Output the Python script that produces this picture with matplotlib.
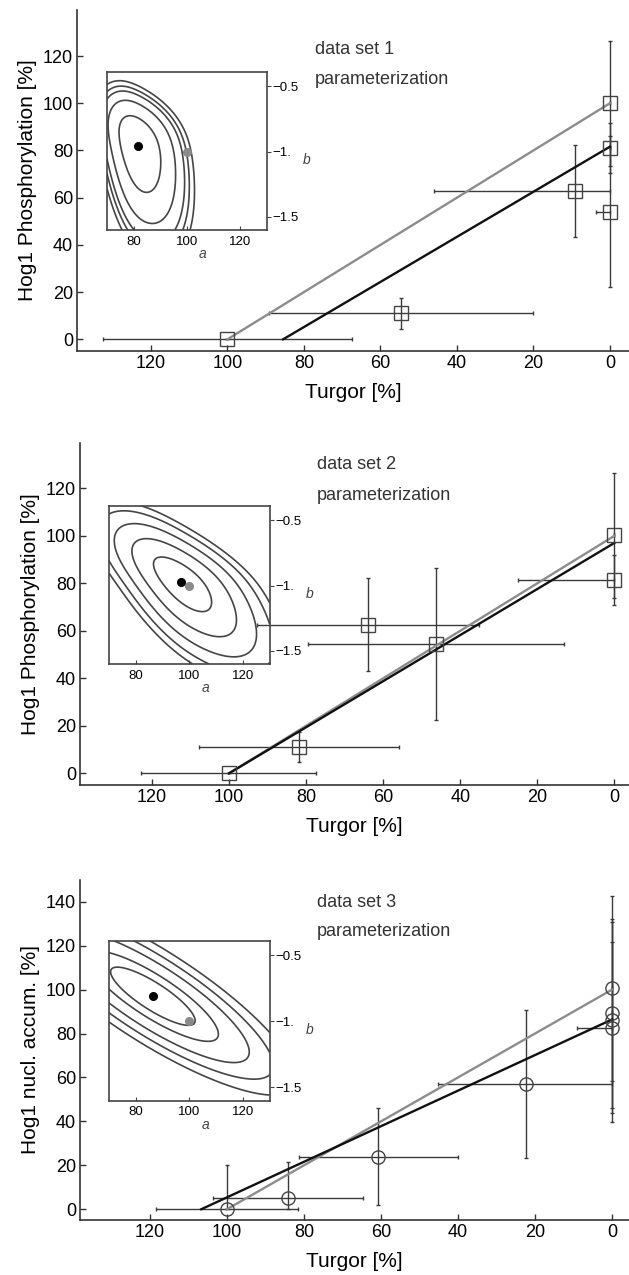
import numpy as np
import matplotlib.pyplot as plt

plt.rcParams['font.family'] = ['Liberation Sans Narrow', 'Liberation Sans', 'DejaVu Sans']

# data set 1 - Hog1 phosphorylation vs turgor
turgor1 = [100, 54.5, 9, 0, 0, 0]
hog1 = [0, 11, 62.8, 100, 81.2, 54]
turgor1_err_lo = [32.5, 34.5, 9, 0, 0, 0]
turgor1_err_hi = [32.5, 34.5, 37, 0, 0, 3.5]
hog1_err_lo = [0, 6.7, 19.5, 26.5, 10.6, 32]
hog1_err_hi = [0, 6.7, 19.5, 26.5, 10.6, 32]

# data set 2 - Hog1 phosphorylation vs turgor
turgor2 = [100, 81.8, 63.9, 46.3, 0, 0]
hog2 = [0, 11.2, 62.6, 54.5, 100.2, 81.3]
turgor2_err_lo = [22.7, 26, 28.7, 33.3, 0, 0]
turgor2_err_hi = [22.7, 26, 28.7, 33.3, 0, 25]
hog2_err_lo = [0, 6.4, 19.5, 32, 26.4, 10.5]
hog2_err_hi = [0, 6.4, 19.5, 32, 26.4, 10.5]

# data set 3 - Hog1 nuclear accumulation vs turgor
turgor3 = [100, 84.1, 60.7, 22.3, 0, 0, 0, 0]
hog3 = [0, 5, 24, 57, 100.6, 89.2, 86.2, 82.7]
turgor3_err_lo = [18.4, 19.5, 20.6, 22.3, 0, 0, 0, 0]
turgor3_err_hi = [18.4, 19.5, 20.6, 22.9, 0, 0, 0, 9]
hog3_err_lo = [0, 5, 22, 33.5, 42, 43, 46.5, 39]
hog3_err_hi = [20, 16.4, 22, 33.5, 42, 43, 44.5, 39]

# linear model hog = a + b * turgor
prior_a, prior_b = 100, -1
fit_a = [81.6, 97.0, 86.4]
fit_b = [-0.955, -0.97, -0.81]

# shape of the fit quality landscape in the insets (spread below / above the fit)
spread_a_lo = [6.8, 10.2, 15.8]
spread_a_hi = [8.8, 11.5, 15.8]
spread_b_lo = [0.37, 0.235, 0.22]
spread_b_hi = [0.2, 0.18, 0.22]
corr = [-0.4, -0.7, -0.84]
levels = [[1, 1.62, 2.0, 2.2, 2.42],
          [1, 1.8, 2.45, 3.0, 3.4],
          [1, 1.55, 2.28, 2.85, 3.4]]

ylabels = ['Hog1 Phosphorylation [%]', 'Hog1 Phosphorylation [%]', 'Hog1 nucl. accum. [%]']
markers = ['s', 's', 'o']

W, H = 629, 1275
main_rects = [(77.4, 10, 629, 350.7), (80.2, 442.7, 629, 785), (80.2, 880, 629, 1220)]
inset_rects = [(107, 71.7, 266.7, 230), (109, 505.7, 269.5, 664), (109, 940.7, 269.5, 1100.7)]
xlims = [(139.2, -5), (138.6, -3.8), (138.1, -4.4)]
ylims = [(-4.8, 139.5), (-4.9, 139.2), (-4.9, 149.9)]
yticks = [range(0, 121, 20), range(0, 121, 20), range(0, 141, 20)]
text_y = [(0.883, 0.795), (0.936, 0.845), (0.935, 0.85)]

fig = plt.figure(figsize=(W / 100, H / 100), dpi=100)


def rect(x0, y0, x1, y1):
    return [x0 / W, 1 - y1 / H, (x1 - x0) / W, (y1 - y0) / H]


def scaled(d, lo, hi):
    # spread changes smoothly from lo (below the fit) to hi (above the fit)
    s = lo + (hi - lo) * 0.5 * (1 + np.tanh(2 * d / (lo + hi)))
    return d / s


def panel(i, x, y, xlo, xhi, ylo, yhi):
    ax = fig.add_axes(rect(*main_rects[i]))
    ax.errorbar(x, y, xerr=[xlo, xhi], yerr=[ylo, yhi], fmt='none',
                ecolor='#3a3a3a', elinewidth=1, capsize=1.5, capthick=1, zorder=2)
    ax.plot([100, 0], [0, prior_a], color='#8c8c8c', lw=1.7, zorder=3)
    a, b = fit_a[i], fit_b[i]
    ax.plot([-a / b, 0], [0, a], color='#111111', lw=1.7, zorder=4)
    ax.plot(x, y, markers[i], ms=9.5, mfc='none', mec='#444444', mew=1, zorder=5)

    ax.set_xlim(*xlims[i])
    ax.set_ylim(*ylims[i])
    ax.set_xticks(range(0, 121, 20))
    ax.set_yticks(list(yticks[i]))
    for s in ['top', 'right']:
        ax.spines[s].set_visible(False)
    for s in ['left', 'bottom']:
        ax.spines[s].set_linewidth(1.2)
        ax.spines[s].set_color('#333333')
    ax.tick_params(direction='in', length=4, width=1, color='#333333',
                   labelsize=13, pad=3)
    ax.set_xlabel('Turgor [%]', fontsize=15, labelpad=8)
    ax.set_ylabel(ylabels[i], fontsize=15, labelpad=4)
    ax.text(0.431, text_y[i][0], 'data set %d' % (i + 1), transform=ax.transAxes,
            fontsize=13, color='#333333', va='center')
    ax.text(0.431, text_y[i][1], 'parameterization', transform=ax.transAxes,
            fontsize=13, color='#333333', va='center')

    # inset: parameter landscape
    ins = fig.add_axes(rect(*inset_rects[i]))
    ins.patch.set_alpha(0)
    ga = np.linspace(70, 130, 400)
    gb = np.linspace(-1.6, -0.39, 400)
    A, B = np.meshgrid(ga, gb)
    u = scaled(A - a, spread_a_lo[i], spread_a_hi[i])
    v = scaled(B - b, spread_b_lo[i], spread_b_hi[i])
    r = corr[i]
    q = np.sqrt((u ** 2 - 2 * r * u * v + v ** 2) / (1 - r ** 2))
    ins.contour(A, B, q, levels=levels[i], colors='#454545', linewidths=1.2)
    ins.plot(prior_a, prior_b, 'o', color='#8a8a8a', ms=5.5, zorder=5)
    ins.plot(a, b, 'o', color='black', ms=5.5, zorder=6)
    ins.set_xlim(70, 130)
    ins.set_ylim(-1.6, -0.39)
    ins.set_xticks([80, 100, 120])
    ins.set_yticks([-0.5, -1, -1.5])
    ins.set_yticklabels(['\u22120.5', '\u22121.', '\u22121.5'])
    ins.yaxis.tick_right()
    for s in ins.spines.values():
        s.set_linewidth(1.2)
        s.set_color('#444444')
    ins.tick_params(axis='x', direction='in', length=3, labelsize=9.5, pad=4, color='#444444')
    ins.tick_params(axis='y', direction='out', length=3, labelsize=9.5, pad=1, color='#444444')
    ins.text(0.6, -0.15, 'a', transform=ins.transAxes, fontsize=10,
             style='italic', color='#444444', ha='center', va='center')
    ins.text(1.25, 0.44, 'b', transform=ins.transAxes, fontsize=10,
             style='italic', color='#444444', ha='center', va='center')


panel(0, turgor1, hog1, turgor1_err_lo, turgor1_err_hi, hog1_err_lo, hog1_err_hi)
panel(1, turgor2, hog2, turgor2_err_lo, turgor2_err_hi, hog2_err_lo, hog2_err_hi)
panel(2, turgor3, hog3, turgor3_err_lo, turgor3_err_hi, hog3_err_lo, hog3_err_hi)

fig.savefig('out.png', dpi=100)
